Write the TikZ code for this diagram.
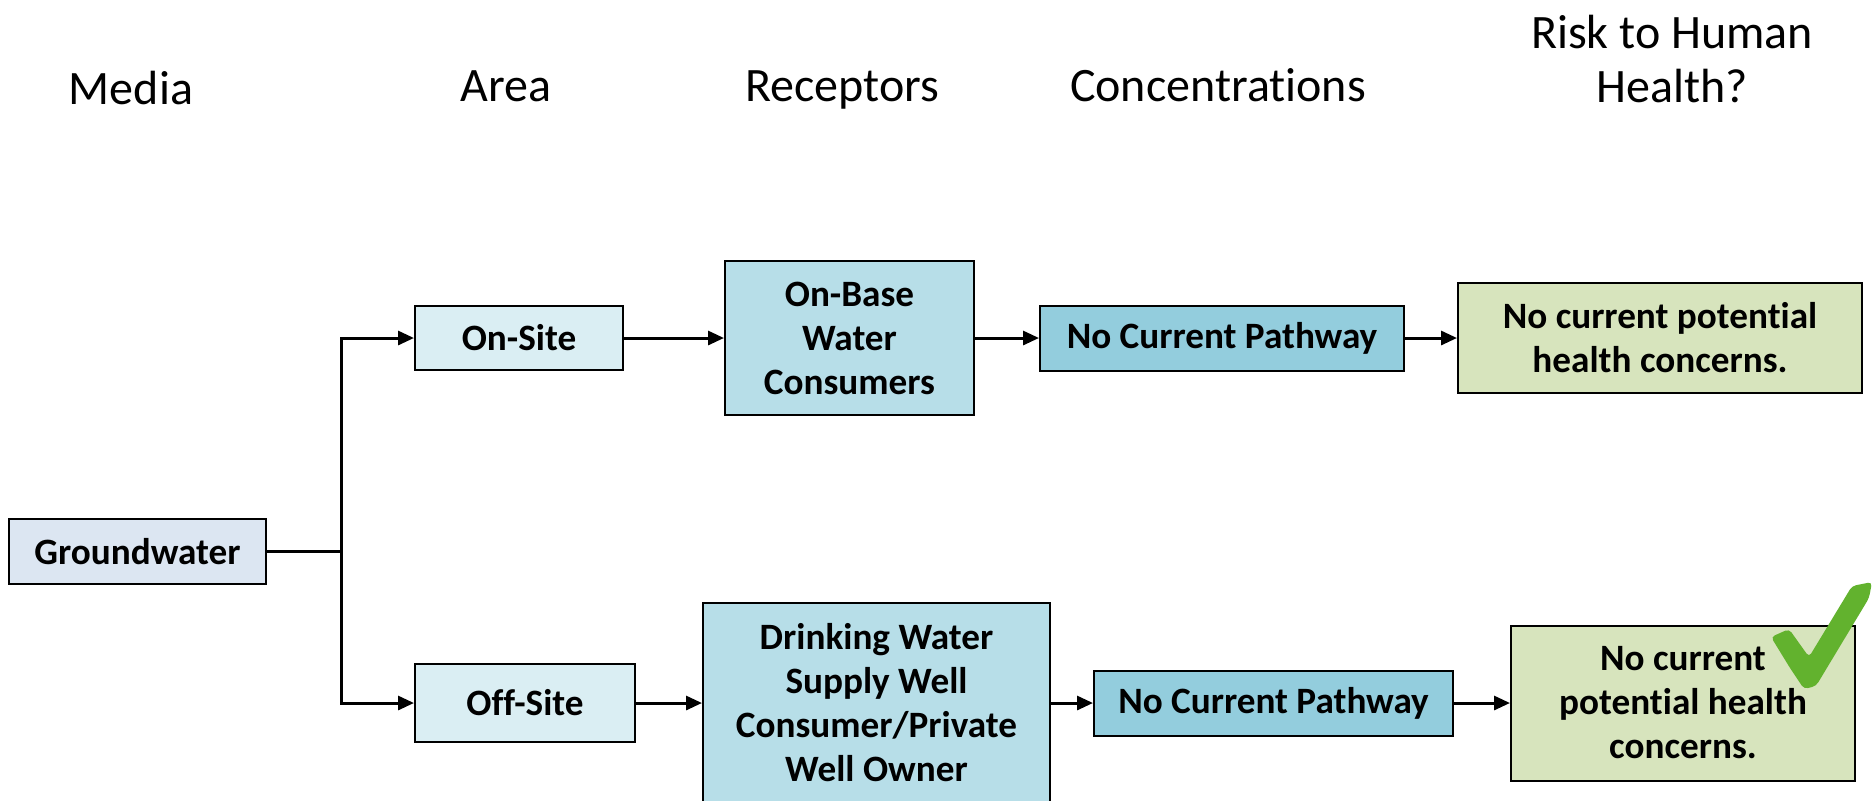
\documentclass[tikz,border=0pt]{standalone}
\usepackage{fontspec}
\setmainfont{Carlito}[Ligatures=NoCommon]
\usetikzlibrary{arrows.meta}
\definecolor{mediafill}{HTML}{DCE6F2}
\definecolor{areafill}{HTML}{DAEEF3}
\definecolor{recfill}{HTML}{B7DEE8}
\definecolor{concfill}{HTML}{93CDDD}
\definecolor{riskfill}{HTML}{D7E4BD}
\definecolor{tickgreen}{HTML}{62B22E}
\begin{document}
\begin{tikzpicture}[x=0.5pt,y=-0.5pt,
    box/.style={draw=black,line width=1pt,inner sep=0pt,align=center,
      font=\fontsize{18.6}{22}\selectfont\bfseries},
    head/.style={anchor=base,font=\fontsize{24}{27}\selectfont},
    flow/.style={line width=1.5pt,-{Triangle[length=8pt,width=7pt]}}]
      \useasboundingbox (0,0) rectangle (1872,800);
      % column headings
      \node[head] (hmedia) at (131,104) {Media};
      \node[head] (harea) at (506,101) {Area};
      \node[head] (hrec) at (842,101) {Receptors};
      \node[head] (hconc) at (1218,101) {Concentrations};
      \node[head,anchor=center,align=center] (hrisk) at (1672,59) {Risk to Human\\Health?};
      % boxes
      \draw
        (137.5,551.5) node[box,fill=mediafill,minimum width=128.5pt,minimum height=32.5pt] (gw){Groundwater}
        (519,338) node[box,fill=areafill,minimum width=104pt,minimum height=32pt] (on){On-Site}
        (525,703) node[box,fill=areafill,minimum width=110pt,minimum height=39pt] (off){Off-Site}
        (849.5,338) node[box,fill=recfill,minimum width=124.5pt,minimum height=77pt] (onbase){On-Base\\Water\\Consumers}
        (876.5,703) node[box,fill=recfill,minimum width=173.5pt,minimum height=100pt] (drink){Drinking Water\\Supply Well\\Consumer/Private\\Well Owner}
        (1222,338) node[box,fill=concfill,minimum width=182pt,minimum height=32.5pt] (ncpa){No Current Pathway}
        (1273.5,703) node[box,fill=concfill,minimum width=179.5pt,minimum height=32.5pt] (ncpb){No Current Pathway}
        (1660,338) node[box,fill=riskfill,minimum width=202pt,minimum height=55pt] (riska){No current potential\\health concerns.}
        (1683,703) node[box,fill=riskfill,minimum width=172pt,minimum height=77.5pt] (riskb){No current\\potential health\\concerns.};
      \coordinate (split) at (341,551.5);
      % tick mark
      \fill[tickgreen,rounded corners=2pt]
        (1771,637) -- (1789,629) -- (1809,657) -- (1852,586) -- (1872,582)
        -- (1869,598) -- (1816,686) -- (1804,689) -- (1790,668) -- cycle;
      \begin{scope}[flow]
        \draw[-] (gw) -- (split);
        \draw (split) |- (on);
        \draw (split) |- (off);
        \draw (on) -- (onbase);
        \draw (off) -- (drink);
        \draw (onbase) -- (ncpa);
        \draw (drink) -- (ncpb);
        \draw (ncpa) -- (riska);
        \draw (ncpb) -- (riskb);
      \end{scope}
    \end{tikzpicture}
\end{document}
